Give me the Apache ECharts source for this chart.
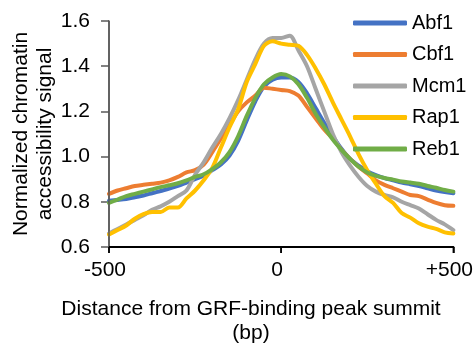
<!DOCTYPE html>
<html>
<head>
<meta charset="utf-8">
<script src="https://cdn.jsdelivr.net/npm/echarts@6/dist/echarts.min.js"></script>
<style>
  html, body { margin: 0; padding: 0; background: #fff; }
  #chart { width: 476px; height: 348px; }
</style>
</head>
<body>
<div id="chart"></div>
<script>
// Position relative to the GRF-binding peak summit (bp)
const positions = [-500, -475, -450, -425, -400, -375, -350, -325, -300, -275, -250,
  -225, -200, -175, -150, -125, -100, -75, -50, -25, 0, 25, 50, 75, 100, 125, 150,
  175, 200, 225, 250, 275, 300, 325, 350, 375, 400, 425, 450, 475, 500];

const seriesNames = ['Abf1', 'Cbf1', 'Mcm1', 'Rap1', 'Reb1'];

// Normalized chromatin accessibility signal per factor
const abf1 = [0.805, 0.808, 0.812, 0.82, 0.828, 0.838, 0.848, 0.858, 0.87, 0.885, 0.90,
  0.915, 0.94, 0.965, 1.005, 1.07, 1.16, 1.245, 1.31, 1.34, 1.35, 1.35, 1.33, 1.28, 1.215,
  1.15, 1.09, 1.035, 0.99, 0.96, 0.935, 0.918, 0.905, 0.895, 0.885, 0.878, 0.87, 0.86,
  0.85, 0.843, 0.838];
const cbf1 = [0.835, 0.85, 0.86, 0.87, 0.875, 0.88, 0.885, 0.895, 0.91, 0.93, 0.94,
  0.965, 1.02, 1.08, 1.14, 1.20, 1.24, 1.27, 1.305, 1.30, 1.295, 1.29, 1.27, 1.22, 1.17,
  1.12, 1.08, 1.03, 0.99, 0.955, 0.925, 0.895, 0.875, 0.86, 0.845, 0.83, 0.825, 0.81,
  0.795, 0.785, 0.782];
const mcm1 = [0.66, 0.68, 0.70, 0.72, 0.74, 0.765, 0.78, 0.80, 0.825, 0.85, 0.92,
  0.975, 1.04, 1.10, 1.17, 1.25, 1.34, 1.43, 1.50, 1.525, 1.525, 1.535, 1.47, 1.40, 1.30,
  1.20, 1.10, 1.02, 0.96, 0.91, 0.87, 0.845, 0.83, 0.82, 0.80, 0.785, 0.77, 0.745, 0.72,
  0.70, 0.675];
const rap1 = [0.655, 0.675, 0.695, 0.725, 0.745, 0.755, 0.755, 0.775, 0.775, 0.815, 0.85,
  0.895, 0.95, 1.04, 1.13, 1.21, 1.33, 1.41, 1.49, 1.51, 1.50, 1.495, 1.49, 1.45, 1.39,
  1.32, 1.24, 1.165, 1.09, 1.01, 0.94, 0.88, 0.825, 0.795, 0.75, 0.73, 0.705, 0.69, 0.68,
  0.665, 0.66];
const reb1 = [0.795, 0.81, 0.825, 0.835, 0.845, 0.855, 0.865, 0.873, 0.882, 0.895, 0.91,
  0.922, 0.945, 0.975, 1.02, 1.09, 1.18, 1.26, 1.32, 1.35, 1.365, 1.355, 1.32, 1.26, 1.19,
  1.13, 1.075, 1.03, 0.99, 0.955, 0.93, 0.915, 0.905, 0.898, 0.89, 0.885, 0.88, 0.87,
  0.862, 0.852, 0.845];

const xTicks = [-500, 0, 500];
const yTicks = [0.6, 0.8, 1.0, 1.2, 1.4, 1.6];

const colors = ['#4472C4', '#ED7D31', '#A5A5A5', '#FFC000', '#70AD47'];
const values = [abf1, cbf1, mcm1, rap1, reb1];
const FONT = '"Liberation Sans", Arial, sans-serif';
const Y_AXIS_COLOR = '#595959';
const X_AXIS_COLOR = '#000000';

// Plot area layout (px)
const CHART_W = 476, CHART_H = 348;
const GRID = { left: 109, right: 20, top: 21, bottom: 101 };
const xMin = xTicks[0], xMax = xTicks[xTicks.length - 1];
const yMin = yTicks[0], yMax = yTicks[yTicks.length - 1];
// data units per pixel, used for tick mark lengths
const xPerPx = (xMax - xMin) / (CHART_W - GRID.left - GRID.right);
const yPerPx = (yMax - yMin) / (CHART_H - GRID.top - GRID.bottom);
const Y_TICK_LEN = 8, X_TICK_LEN = 6;

// Axis frame drawn as plain line segments in data space
function frameSegment(points, color, width) {
  return {
    type: 'line',
    data: points,
    symbol: 'none',
    showSymbol: false,
    silent: true,
    clip: false,
    z: 5,
    legendHoverLink: false,
    emphasis: { disabled: true },
    tooltip: { show: false },
    lineStyle: { color: color, width: width, cap: 'butt' }
  };
}
const frameSeries = [];
frameSeries.push(frameSegment([[xMin, yMin], [xMin, yMax]], Y_AXIS_COLOR, 1.5));
yTicks.forEach(t => frameSeries.push(
  frameSegment([[xMin - Y_TICK_LEN * xPerPx, t], [xMin, t]], Y_AXIS_COLOR, 1.5)));
frameSeries.push(frameSegment([[xMin, yMin], [xMax, yMin]], X_AXIS_COLOR, 2));
xTicks.forEach(t => frameSeries.push(
  frameSegment([[t, yMin], [t, yMin - X_TICK_LEN * yPerPx]], X_AXIS_COLOR, 1.5)));

const chart = echarts.init(document.getElementById('chart'), null, { renderer: 'canvas' });

chart.setOption({
  animation: false,
  backgroundColor: '#ffffff',
  color: colors,
  textStyle: { fontFamily: FONT },
  grid: { left: GRID.left, right: GRID.right, top: GRID.top, bottom: GRID.bottom },
  legend: {
    orient: 'vertical',
    left: 353,
    top: 13,
    padding: 0,
    icon: 'roundRect',
    itemWidth: 54,
    itemHeight: 5,
    itemGap: 11.5,
    itemTextGap: 5,
    itemStyle: { borderWidth: 0 },
    textStyle: { fontSize: 20, color: '#000', fontFamily: FONT },
    data: seriesNames
  },
  xAxis: {
    type: 'value',
    min: xMin,
    max: xMax,
    interval: 500,
    axisLine: { show: true, onZero: false, lineStyle: { color: X_AXIS_COLOR, width: 2 } },
    axisTick: { show: true, length: X_TICK_LEN, lineStyle: { color: X_AXIS_COLOR, width: 1.5 } },
    axisLabel: {
      fontSize: 21, color: '#000', margin: 13, fontFamily: FONT,
      padding: [0, 8, 0, 0],
      formatter: v => (v > 0 ? '+' + v : String(v))
    },
    splitLine: { show: false }
  },
  yAxis: {
    type: 'value',
    min: yMin,
    max: yMax,
    interval: 0.2,
    axisLine: { show: true, onZero: false, lineStyle: { color: Y_AXIS_COLOR, width: 1.5 } },
    axisTick: { show: true, length: Y_TICK_LEN, lineStyle: { color: Y_AXIS_COLOR, width: 1.5 } },
    axisLabel: {
      fontSize: 21, color: '#000', margin: 19, fontFamily: FONT,
      formatter: v => v.toFixed(1)
    },
    splitLine: { show: false }
  },
  series: seriesNames.map((seriesName, i) => ({
    name: seriesName,
    type: 'line',
    data: positions.map((x, j) => [x, values[i][j]]),
    showSymbol: false,
    symbol: 'none',
    smooth: 0.3,
    z: 2,
    lineStyle: { width: 4, color: colors[i], cap: 'round', join: 'round' },
    itemStyle: { color: colors[i] }
  })).concat(frameSeries),
  graphic: [
    {
      type: 'text',
      x: 33, y: 134,
      rotation: Math.PI / 2,
      style: {
        text: 'Normalized chromatin\naccessibility signal',
        fontSize: 21, lineHeight: 24, fontFamily: FONT, fill: '#000',
        textAlign: 'center', textVerticalAlign: 'middle'
      }
    },
    {
      type: 'text',
      x: 251, y: 321,
      style: {
        text: 'Distance from GRF-binding peak summit\n(bp)',
        fontSize: 21, lineHeight: 24, fontFamily: FONT, fill: '#000',
        textAlign: 'center', textVerticalAlign: 'middle'
      }
    }
  ]
});
</script>
</body>
</html>
